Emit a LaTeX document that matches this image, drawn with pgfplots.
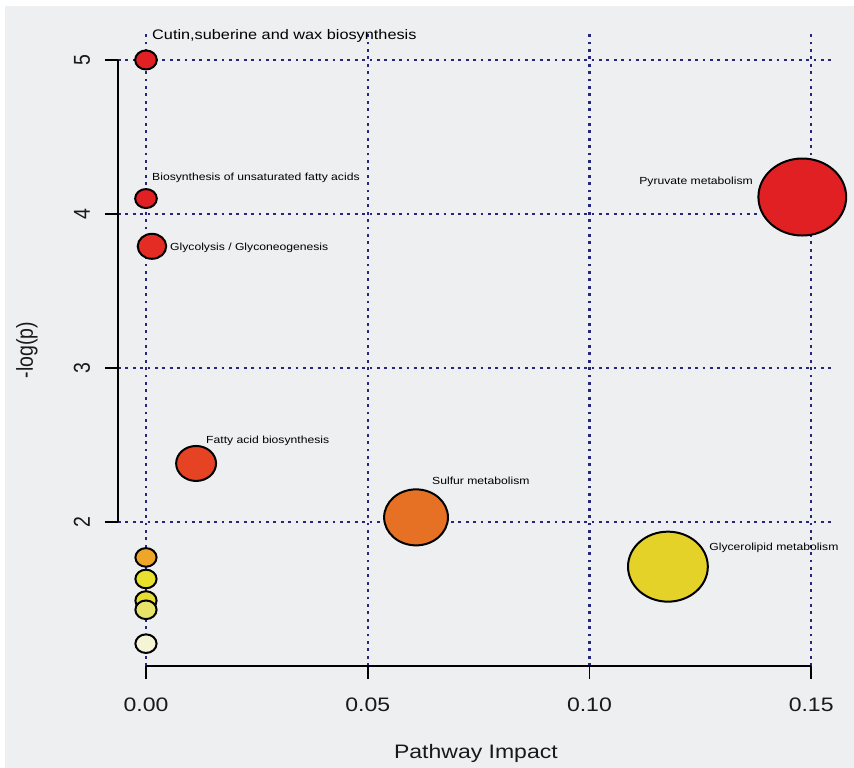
\documentclass[border=0pt]{standalone}
\usepackage{pgfplots}
\pgfplotsset{compat=1.18}
\usepackage{fontspec}
\setmainfont{Liberation Sans}
\definecolor{bg}{RGB}{238,239,241}
\definecolor{gridblue}{RGB}{38,38,125}
\definecolor{cRed}{RGB}{225,32,36}
\definecolor{cRedB}{RGB}{228,44,36}
\definecolor{cOrRed}{RGB}{230,66,36}
\definecolor{cOrange}{RGB}{230,112,36}
\definecolor{cYellow}{RGB}{228,210,40}
\definecolor{cYOr}{RGB}{238,165,40}
\definecolor{cY1}{RGB}{232,224,44}
\definecolor{cY2}{RGB}{230,220,52}
\definecolor{cY3}{RGB}{232,228,105}
\definecolor{cPale}{RGB}{245,244,215}
\pgfplotsset{
  bub/.style={only marks, mark=*, mark size=#1,
    mark options={draw=black, line width=2pt, xscale=1.14}},
}
\newcommand{\tickfont}{\fontsize{19.5}{22}\selectfont}
\tikzset{tl/.style={anchor=base, inner sep=0pt, font=\tickfont, xscale=1.18, text=black!90},
         tly/.style={anchor=base, inner sep=0pt, font=\tickfont, xscale=1.18, rotate=90, text=black!90},
         pl/.style={anchor=west, inner sep=0pt, font=\fontsize{10.3}{12}\selectfont, xscale=1.18}}
\begin{document}
\begin{tikzpicture}[x=1pt,y=1pt]
\useasboundingbox (0,0) rectangle (854,768);
\fill[white] (0,0) rectangle (854,768);
\fill[bg] (5,0) rectangle (854,762);
\begin{axis}[
  at={(118pt,102pt)}, anchor=south west,
  scale only axis, width=714pt, height=633pt,
  xmin=-0.00631, xmax=0.1547, ymin=1.065, ymax=5.175,
  axis line style={draw=none},
  xtick={0,0.05,0.1,0.15}, ytick={2,3,4,5},
  xticklabels={}, yticklabels={},
  tick align=outside, xtick pos=bottom, ytick pos=left,
  major tick length=13pt,
  tick style={black, line width=1.8pt},
  grid=major,
  major grid style={gridblue, line width=2.2pt, dash pattern=on 2.8pt off 4.6pt},
  clip=false,
  scaled x ticks=false,
]
% R-style axis lines
\draw[black, line width=1.8pt] (axis cs:0,1.065) -- (axis cs:0.15,1.065);
\draw[black, line width=1.8pt] (axis cs:-0.00631,2) -- (axis cs:-0.00631,5);
% tick labels
\node[tl] at (axis cs:0,0.7727) {0.00};
\node[tl] at (axis cs:0.05,0.7727) {0.05};
\node[tl] at (axis cs:0.1,0.7727) {0.10};
\node[tl] at (axis cs:0.15,0.7727) {0.15};
\node[tly] at (axis cs:-0.01263,2) {2};
\node[tly] at (axis cs:-0.01263,3) {3};
\node[tly] at (axis cs:-0.01263,4) {4};
\node[tly] at (axis cs:-0.01263,5) {5};
\node[tl] at (axis cs:0.0744,0.4675) {Pathway Impact};
\node[tly] at (axis cs:-0.02548,3.117) {-log(p)};

% bubbles
\addplot[bub=9.5pt, fill=cRed] coordinates {(0,5.00)};
\addplot[bub=9.5pt, fill=cRed] coordinates {(0,4.10)};
\addplot[bub=12.5pt, fill=cRedB] coordinates {(0.00135,3.79)};
\addplot[bub=17.5pt, fill=cOrRed] coordinates {(0.0113,2.38)};
\addplot[bub=28pt, fill=cOrange] coordinates {(0.0609,2.03)};
\addplot[bub=35pt, fill=cYellow] coordinates {(0.1177,1.71)};
\addplot[bub=38.5pt, fill=cRed] coordinates {(0.148,4.11)};
\addplot[bub=9.3pt, fill=cYOr] coordinates {(0,1.77)};
\addplot[bub=9.3pt, fill=cY1] coordinates {(0,1.63)};
\addplot[bub=9.3pt, fill=cY2] coordinates {(0,1.49)};
\addplot[bub=9.3pt, fill=cY3] coordinates {(0,1.43)};
\addplot[bub=9.3pt, fill=cPale] coordinates {(0,1.21)};

% pathway labels
\node[anchor=west, inner sep=0pt, font=\fontsize{13.8}{16}\selectfont, xscale=1.18] at (axis cs:0.00135,5.156) {Cutin,suberine and wax biosynthesis};
\node[pl] at (axis cs:0.00135,4.234) {Biosynthesis of unsaturated fatty acids};
\node[pl] at (axis cs:0.00541,3.779) {Glycolysis / Glyconeogenesis};
\node[pl] at (axis cs:0.01353,2.526) {Fatty acid biosynthesis};
\node[pl] at (axis cs:0.0645,2.266) {Sulfur metabolism};
\node[pl] at (axis cs:0.127,1.831) {Glycerolipid metabolism};
\node[pl] at (axis cs:0.1112,4.208) {Pyruvate metabolism};
\end{axis}
\end{tikzpicture}
\end{document}
